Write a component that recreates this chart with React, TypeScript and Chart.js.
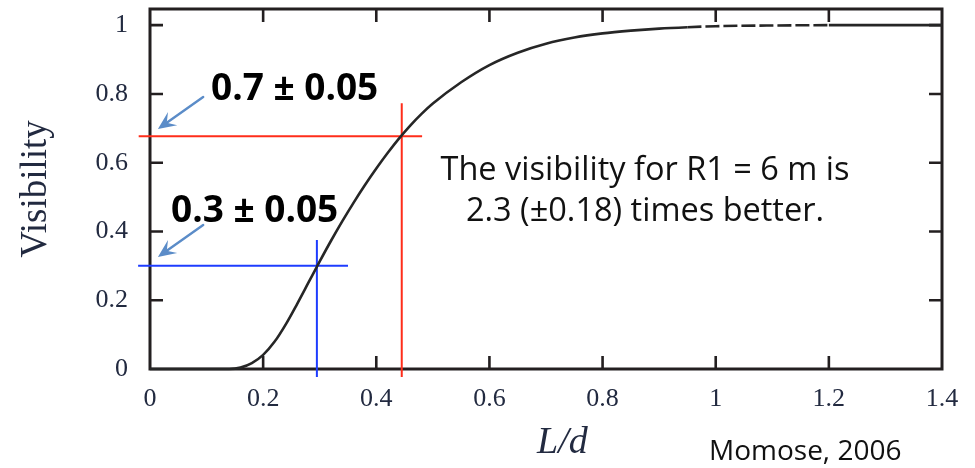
import React, { useEffect, useRef } from "react";
import { Chart, registerables } from "chart.js";

Chart.register(...registerables);

// ---- data ----
const xTickValues = [0, 0.2, 0.4, 0.6, 0.8, 1, 1.2, 1.4];
const yTickValues = [0, 0.2, 0.4, 0.6, 0.8, 1];

const ratioLd = [
  0, 0.1, 0.14, 0.16, 0.18, 0.2, 0.22, 0.24, 0.26, 0.28, 0.3, 0.32, 0.34, 0.36,
  0.38, 0.4, 0.42, 0.44, 0.46, 0.48, 0.5, 0.55, 0.6, 0.65, 0.7, 0.75, 0.8, 0.85,
  0.9, 0.95, 1.0, 1.1, 1.2, 1.3, 1.4,
];
const visibility = [
  0, 0, 0, 0.004, 0.017, 0.041, 0.079, 0.13, 0.189, 0.251, 0.313, 0.373, 0.43,
  0.484, 0.535, 0.583, 0.628, 0.67, 0.708, 0.742, 0.772, 0.834, 0.884, 0.92,
  0.946, 0.964, 0.976, 0.984, 0.99, 0.994, 0.997, 0.999, 1.0, 1.0, 1.0,
];

const redHorizontal = [
  { x: -0.02, y: 0.677 },
  { x: 0.481, y: 0.677 },
];
const redVertical = [
  { x: 0.445, y: 0.773 },
  { x: 0.445, y: -0.023 },
];
const blueHorizontal = [
  { x: -0.021, y: 0.3 },
  { x: 0.35, y: 0.3 },
];
const blueVertical = [
  { x: 0.295, y: 0.375 },
  { x: 0.295, y: -0.023 },
];

// arrows: [fromX, fromY, toX, toY] in data units
const arrowHigh = [0.094, 0.791, 0.014, 0.698];
const arrowLow = [0.094, 0.419, 0.014, 0.326];

const labelHigh = "0.7 ± 0.05";
const labelLow = "0.3 ± 0.05";
const noteLines = ["The visibility for R1 = 6 m is", "2.3 (±0.18) times better."];
const sourceText = "Momose, 2006";
const xTitle = "L/d";
const yTitle = "Visibility";

const fmt = (v: number) => String(Math.round(v * 10) / 10);

function drawArrow(ctx: CanvasRenderingContext2D, x0: number, y0: number, x1: number, y1: number) {
  const dx = x1 - x0;
  const dy = y1 - y0;
  const len = Math.hypot(dx, dy);
  const ux = dx / len;
  const uy = dy / len;
  const nx = -uy;
  const ny = ux;
  const L = 18;
  const W = 16;
  ctx.save();
  ctx.strokeStyle = "#5b8cc8";
  ctx.fillStyle = "#5b8cc8";
  ctx.lineWidth = 2.4;
  ctx.lineCap = "round";
  ctx.beginPath();
  ctx.moveTo(x0, y0);
  ctx.lineTo(x1 - ux * L * 0.6, y1 - uy * L * 0.6);
  ctx.stroke();
  ctx.beginPath();
  ctx.moveTo(x1, y1);
  ctx.lineTo(x1 - ux * L + nx * W / 2, y1 - uy * L + ny * W / 2);
  ctx.lineTo(x1 - ux * L * 0.6, y1 - uy * L * 0.6);
  ctx.lineTo(x1 - ux * L - nx * W / 2, y1 - uy * L - ny * W / 2);
  ctx.closePath();
  ctx.fill();
  ctx.restore();
}

const overlayPlugin = {
  id: "overlay",
  beforeDatasetsDraw(chart: any) {
    const { ctx, chartArea: a, scales } = chart;
    const xs = scales.x;
    const ys = scales.y;
    ctx.save();
    ctx.strokeStyle = "#231f20";
    ctx.lineWidth = 3;
    ctx.strokeRect(a.left, a.top, a.right - a.left, a.bottom - a.top);
    ctx.lineWidth = 2.6;
    const tl = 13;
    ctx.beginPath();
    for (const t of xs.ticks) {
      const px = xs.getPixelForValue(t.value);
      if (px <= a.left + 2 || px >= a.right - 2) continue;
      ctx.moveTo(px, a.bottom);
      ctx.lineTo(px, a.bottom - tl);
      ctx.moveTo(px, a.top);
      ctx.lineTo(px, a.top + tl);
    }
    for (const t of ys.ticks) {
      const py = ys.getPixelForValue(t.value);
      if (py >= a.bottom - 2 || py <= a.top + 2) continue;
      ctx.moveTo(a.left, py);
      ctx.lineTo(a.left + tl, py);
      ctx.moveTo(a.right, py);
      ctx.lineTo(a.right - tl, py);
    }
    ctx.stroke();
    ctx.restore();
  },
  afterDatasetsDraw(chart: any) {
    const { ctx, scales } = chart;
    const xs = scales.x;
    const ys = scales.y;
    const P = (x: number, y: number) => [xs.getPixelForValue(x), ys.getPixelForValue(y)];

    for (const a of [arrowHigh, arrowLow]) {
      const [x0, y0] = P(a[0], a[1]);
      const [x1, y1] = P(a[2], a[3]);
      drawArrow(ctx, x0, y0, x1, y1);
    }

    ctx.save();
    ctx.fillStyle = "#000";
    ctx.textBaseline = "alphabetic";
    ctx.textAlign = "left";
    ctx.font = "bold 37px 'Open Sans'";
    ctx.fillText(labelHigh, 211, 100);
    ctx.fillText(labelLow, 171, 222);

    ctx.fillStyle = "#111";
    ctx.textAlign = "center";
    ctx.font = "32.5px 'Open Sans'";
    ctx.fillText(noteLines[0], 645, 180);
    ctx.fillText(noteLines[1], 645, 221);

    ctx.textAlign = "left";
    ctx.font = "28px 'Open Sans'";
    ctx.fillText(sourceText, 709, 460);

    ctx.fillStyle = "#222a40";
    ctx.font = "italic 38px 'Liberation Serif'";
    ctx.fillText(xTitle, 537, 453);
    ctx.restore();
  },
};

export default function App() {
  const ref = useRef<HTMLCanvasElement | null>(null);

  useEffect(() => {
    const canvas = ref.current;
    if (!canvas) return;
    const lineCommon = { pointRadius: 0, borderWidth: 2, fill: false, clip: false as any, tension: 0 };
    const chart = new Chart(canvas, {
      type: "line",
      data: {
        datasets: [
          {
            label: "Visibility",
            data: ratioLd.map((x, i) => ({ x, y: visibility[i] })),
            borderColor: "#262626",
            borderWidth: 2.6,
            pointRadius: 0,
            fill: false,
            cubicInterpolationMode: "monotone",
            clip: false as any,
            segment: {
              borderDash: (c: any) =>
                c.p0.parsed.x >= 0.95 && c.p1.parsed.x <= 1.2 ? [14, 4] : undefined,
            },
          },
          { label: "red-h", data: redHorizontal, borderColor: "#ff2d1a", ...lineCommon },
          { label: "red-v", data: redVertical, borderColor: "#ff2d1a", ...lineCommon },
          { label: "blue-h", data: blueHorizontal, borderColor: "#1e3cff", ...lineCommon },
          { label: "blue-v", data: blueVertical, borderColor: "#1e3cff", ...lineCommon },
        ],
      },
      options: {
        responsive: false,
        animation: false,
        layout: { padding: { top: 9, right: 33, left: 0, bottom: 0 } },
        plugins: {
          legend: { display: false },
          tooltip: { enabled: false },
        },
        scales: {
          x: {
            type: "linear",
            min: 0,
            max: 1.4,
            afterBuildTicks: (s: any) => {
              s.ticks = xTickValues.map((v) => ({ value: v }));
            },
            afterFit: (s: any) => {
              s.height = 99;
              s.paddingLeft = 0;
              s.paddingRight = 0;
              s.paddingTop = 0;
              s.paddingBottom = 0;
            },
            ticks: {
              padding: 15,
              maxRotation: 0,
              autoSkip: false,
              color: "#222a40",
              font: { family: "'Liberation Serif'", size: 26 },
              callback: (v: any) => fmt(Number(v)),
            },
            grid: { display: false, drawTicks: false },
            border: { display: false },
          },
          y: {
            type: "linear",
            min: 0,
            max: 1.047,
            afterBuildTicks: (s: any) => {
              s.ticks = yTickValues.map((v) => ({ value: v }));
            },
            afterFit: (s: any) => {
              s.width = 150;
              s.paddingLeft = 0;
              s.paddingRight = 0;
              s.paddingTop = 0;
              s.paddingBottom = 0;
            },
            ticks: {
              padding: 22,
              color: "#222a40",
              font: { family: "'Liberation Serif'", size: 26 },
              callback: (v: any) => fmt(Number(v)),
            },
            grid: { display: false, drawTicks: false },
            border: { display: false },
            title: {
              display: true,
              text: yTitle,
              color: "#222a40",
              font: { family: "'Liberation Serif'", size: 37 },
              padding: { top: 14, bottom: 0 },
            },
          },
        },
      },
      plugins: [overlayPlugin],
    } as any);
    return () => chart.destroy();
  }, []);

  return (
    <div style={{ position: "absolute", left: 0, top: 0, width: 975, height: 468, background: "#fff" }}>
      <canvas ref={ref} width={975} height={468} style={{ display: "block", width: 975, height: 468 }} />
    </div>
  );
}
